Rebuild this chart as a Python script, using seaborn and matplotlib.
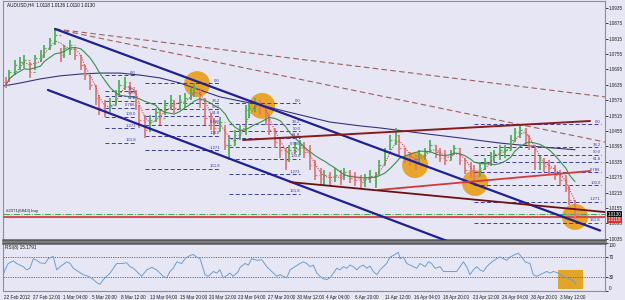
import numpy as np
import pandas as pd
import matplotlib
matplotlib.use("Agg")
import matplotlib.pyplot as plt
from matplotlib import font_manager
from matplotlib.patches import Ellipse, Rectangle
import seaborn as sns

sns.set_style("white")
_names = {f.name for f in font_manager.fontManager.ttflist}
_narrow = "Liberation Sans Narrow" in _names
plt.rcParams["font.family"] = (["Liberation Sans Narrow"] if _narrow else ["Liberation Sans"]) + ["DejaVu Sans"]

# ---------------- data ----------------
title = "AUDUSD,H4  1.0118 1.0136 1.0110 1.0130"
tick_labels = ["22 Feb 2012", "27 Feb 12:00", "1 Mar 04:00", "5 Mar 20:00", "8 Mar 12:00",
               "13 Mar 04:00", "15 Mar 20:00", "20 Mar 12:00", "23 Mar 04:00", "27 Mar 20:00",
               "30 Mar 12:00", "4 Apr 04:00", "6 Apr 20:00", "11 Apr 12:00", "16 Apr 04:00",
               "18 Apr 20:00", "23 Apr 12:00", "26 Apr 04:00", "30 Apr 20:00", "3 May 12:00"]
tick_bars = list(range(0, 320, 16))
price_ticks = [1.0035, 1.0095, 1.0155, 1.0215, 1.0275, 1.0335, 1.0395, 1.0455, 1.0515,
               1.0575, 1.0635, 1.0695, 1.0755, 1.0815, 1.0875, 1.0935]

bar_idx = [1, 3, 6, 9, 11, 14, 17, 20, 22, 25,
           28, 31, 33, 36, 39, 42, 44, 47, 50, 52,
           55, 58, 61, 63, 66, 69, 72, 74, 77, 80,
           83, 85, 88, 91, 93, 96, 99, 102, 104, 107,
           110, 113, 115, 118, 121, 123, 126, 129, 132, 134,
           137, 140, 143, 145, 148, 151, 154, 156, 159, 162,
           164, 167, 170, 173, 175, 178, 181, 184, 186, 189,
           192, 195, 197, 200, 203, 205, 208, 211, 214, 216,
           219, 222, 225, 227, 230, 233, 236, 238, 241, 244,
           246, 249, 252, 255, 257, 260, 263, 266, 268, 271,
           274, 277, 279, 282, 285, 287, 290, 293, 295, 298,
           301, 304, 307, 309, 312]
highs = [1.0666, 1.0693, 1.0732, 1.0744, 1.0752, 1.0724, 1.0752, 1.0771, 1.0791, 1.0818,
         1.0853, 1.0779, 1.0791, 1.0810, 1.0779, 1.0752, 1.0712, 1.0673, 1.0634, 1.0596,
         1.0576, 1.0584, 1.0615, 1.0654, 1.0666, 1.0646, 1.0615, 1.0557, 1.0518, 1.0518,
         1.0545, 1.0537, 1.0576, 1.0596, 1.0576, 1.0596, 1.0603, 1.0623, 1.0642, 1.0615,
         1.0584, 1.0525, 1.0506, 1.0510, 1.0479, 1.0440, 1.0459, 1.0479, 1.0557, 1.0564,
         1.0584, 1.0576, 1.0545, 1.0518, 1.0467, 1.0428, 1.0389, 1.0401, 1.0412, 1.0420,
         1.0412, 1.0401, 1.0342, 1.0311, 1.0303, 1.0295, 1.0311, 1.0303, 1.0311, 1.0303,
         1.0295, 1.0283, 1.0287, 1.0303, 1.0295, 1.0342, 1.0389, 1.0440, 1.0467, 1.0440,
         1.0389, 1.0373, 1.0362, 1.0381, 1.0389, 1.0420, 1.0401, 1.0389, 1.0381, 1.0381,
         1.0401, 1.0389, 1.0350, 1.0334, 1.0323, 1.0334, 1.0350, 1.0373, 1.0381, 1.0401,
         1.0401, 1.0440, 1.0467, 1.0479, 1.0467, 1.0440, 1.0401, 1.0358, 1.0350, 1.0342,
         1.0323, 1.0303, 1.0283, 1.0244, 1.0186]
lows = [1.0623, 1.0646, 1.0673, 1.0693, 1.0701, 1.0662, 1.0693, 1.0724, 1.0740, 1.0771,
        1.0791, 1.0724, 1.0740, 1.0752, 1.0732, 1.0693, 1.0654, 1.0615, 1.0557, 1.0518,
        1.0510, 1.0529, 1.0557, 1.0596, 1.0615, 1.0588, 1.0537, 1.0467, 1.0428, 1.0451,
        1.0490, 1.0479, 1.0518, 1.0537, 1.0525, 1.0537, 1.0545, 1.0576, 1.0588, 1.0545,
        1.0479, 1.0459, 1.0440, 1.0451, 1.0381, 1.0342, 1.0401, 1.0420, 1.0440, 1.0506,
        1.0529, 1.0518, 1.0479, 1.0440, 1.0389, 1.0350, 1.0303, 1.0334, 1.0365, 1.0362,
        1.0350, 1.0303, 1.0264, 1.0244, 1.0244, 1.0240, 1.0256, 1.0244, 1.0264, 1.0252,
        1.0240, 1.0233, 1.0237, 1.0252, 1.0233, 1.0283, 1.0323, 1.0381, 1.0401, 1.0362,
        1.0330, 1.0319, 1.0303, 1.0330, 1.0342, 1.0373, 1.0350, 1.0334, 1.0323, 1.0342,
        1.0362, 1.0323, 1.0287, 1.0272, 1.0256, 1.0280, 1.0303, 1.0319, 1.0334, 1.0342,
        1.0350, 1.0381, 1.0412, 1.0428, 1.0401, 1.0381, 1.0303, 1.0303, 1.0295, 1.0283,
        1.0264, 1.0244, 1.0217, 1.0167, 1.0110]
closes = [1.0634, 1.0685, 1.0712, 1.0724, 1.0732, 1.0685, 1.0740, 1.0752, 1.0779, 1.0810,
          1.0830, 1.0752, 1.0779, 1.0791, 1.0752, 1.0712, 1.0673, 1.0634, 1.0584, 1.0545,
          1.0537, 1.0557, 1.0596, 1.0634, 1.0646, 1.0607, 1.0568, 1.0498, 1.0459, 1.0498,
          1.0529, 1.0506, 1.0557, 1.0576, 1.0545, 1.0576, 1.0584, 1.0607, 1.0623, 1.0576,
          1.0506, 1.0490, 1.0467, 1.0490, 1.0401, 1.0401, 1.0440, 1.0459, 1.0537, 1.0545,
          1.0568, 1.0557, 1.0498, 1.0459, 1.0412, 1.0381, 1.0342, 1.0381, 1.0389, 1.0401,
          1.0373, 1.0323, 1.0283, 1.0272, 1.0283, 1.0264, 1.0283, 1.0272, 1.0295, 1.0272,
          1.0264, 1.0256, 1.0272, 1.0280, 1.0283, 1.0323, 1.0373, 1.0420, 1.0440, 1.0389,
          1.0350, 1.0342, 1.0334, 1.0362, 1.0373, 1.0401, 1.0373, 1.0350, 1.0342, 1.0365,
          1.0389, 1.0342, 1.0303, 1.0295, 1.0280, 1.0311, 1.0334, 1.0358, 1.0365, 1.0381,
          1.0381, 1.0420, 1.0451, 1.0459, 1.0440, 1.0401, 1.0334, 1.0334, 1.0319, 1.0311,
          1.0283, 1.0264, 1.0233, 1.0186, 1.0130]
first_open = 1.0645

ma_long_bar = [0, 8.7, 19.7, 30.6, 41.5, 52.5, 63.4, 74.3, 85.2, 96.2, 107.1, 118.0,
               129.0, 139.9, 150.8, 161.7, 178.1, 194.5, 205.5, 227.3, 249.2, 271.0, 292.9, 312]
ma_long = [1.0631, 1.0642, 1.0658, 1.0670, 1.0677, 1.0681, 1.0681, 1.0673, 1.0662, 1.0642,
           1.0615, 1.0588, 1.0572, 1.0557, 1.0537, 1.0518, 1.0490, 1.0475, 1.0467, 1.0447,
           1.0428, 1.0408, 1.0393, 1.0382]

# trend lines: (bar0, price0, bar1, price1)
line_blue_upper = [27.9, 1.0853, 325.7, 1.0067]
line_blue_lower = [24.0, 1.0615, 249.2, 1.0007]
line_dash_1 = [27.9, 1.0853, 328.4, 1.0588]
line_dash_2 = [27.9, 1.0853, 328.4, 1.0412]
line_darkred = [130.6, 1.0420, 320.2, 1.0494]
line_red = [204.4, 1.0225, 320.2, 1.0299]
line_maroon = [156.3, 1.0256, 328.4, 1.0139]

fib_ratios = [0, 38.2, 50, 61.8, 78.6, 100, 127.1, 161.8]
fib_labels = ["0.0", "38.2", "50.0", "61.8", "0.786", "100.0", "1.271", "161.8"]
fib_start = [55, 77, 123, 257]
fib_end = [72, 118, 162, 326]
fib_p0 = [1.0673, 1.0642, 1.0564, 1.0482]
fib_p100 = [1.0510, 1.0436, 1.0346, 1.0244]

circle_bar = [105.5, 141.0, 224.6, 257.4, 312.0]
circle_price = [1.0638, 1.0553, 1.0322, 1.0252, 1.0120]

order_price = 1.0130
red_level = 1.0118
order_label = "#2371(6843) buy"

rsi_bar = [0, 0.5, 2.3, 5.1, 6.9, 8.7, 10.5, 12.4, 14.2, 16.0,
           17.9, 19.7, 22.4, 24.2, 26.9, 28.8, 30.6, 34.3, 36.1, 37.9,
           40.6, 43.3, 46.1, 48.8, 50.7, 52.5, 54.3, 56.1, 57.9, 61.6,
           64.3, 67.0, 68.9, 70.7, 72.5, 75.2, 78.0, 80.7, 83.4, 87.0,
           88.9, 90.7, 92.5, 94.4, 97.1, 98.9, 101.6, 103.4, 105.3, 107.1,
           108.0, 109.8, 111.6, 114.4, 116.2, 118.0, 119.8, 123.5, 125.3, 128.0,
           129.0, 131.7, 133.5, 135.4, 138.1, 140.8, 143.6, 146.3, 149.0, 150.8,
           154.5, 156.3, 159.0, 161.7,
           163.6, 165.4, 167.2, 169.0, 170.9, 172.7, 174.5, 176.3, 178.1, 180.0,
           181.8, 183.6, 185.4, 187.3, 189.1, 190.9, 192.7, 194.5, 196.3, 198.2,
           200.0, 201.8, 203.7, 205.5, 207.3, 209.1, 210.9, 212.7, 214.6, 215.5,
           216.4, 218.2, 220.1, 221.9, 223.7, 225.5, 227.3, 230.1, 231.9, 233.7,
           235.5, 238.3, 240.1, 242.8, 247.4, 249.2, 251.0, 252.8, 254.6, 256.5,
           258.3, 260.1, 261.9, 263.8, 265.6, 267.4, 269.2, 271.0, 272.9, 274.7,
           276.5, 279.2, 281.0, 282.9, 284.7, 287.4, 289.2, 291.1, 292.9, 294.7,
           296.6, 298.4, 300.2, 302.9, 305.6, 307.5, 309.3, 311.1, 312.5]
rsi_val = [37.3, 44, 57.3, 62.7, 57.3, 54, 50.7, 44, 47.3, 67.3,
           64, 58.7, 57.3, 67.3, 72, 44, 50.7, 60.7, 57.3, 47.3,
           40.7, 34, 30.7, 24, 17.3, 14, 24, 30.7, 37.3, 57.3,
           57.3, 58.7, 50.7, 47.3, 40.7, 30.7, 44, 49.3, 44, 30.7,
           27.3, 40.7, 47.3, 60.7, 57.3, 67.3, 74, 76, 70.7, 67.3,
           57.3, 34, 30.7, 40.7, 37.3, 44, 27.3, 37.3, 30.7, 40.7,
           49.3, 57.3, 54, 67.3, 64, 65.3, 50.7, 40.7, 30.7, 34,
           27.3, 44, 50.7, 57.3,
           60.7, 57.3, 50.7, 54, 37.3, 30.7, 25.3, 24, 27.3, 37.3,
           47.3, 44, 50.7, 47.3, 54, 50.7, 44, 50.7, 54, 47.3,
           52, 40.7, 34, 44, 50.7, 57.3, 70.7, 74, 78.7, 80.7,
           67.3, 70.7, 57.3, 54, 50.7, 47.3, 57.3, 50.7, 60.7, 57.3,
           47.3, 50.7, 40.7, 40.7, 40.7, 50.7, 60.7, 50.7, 34, 44,
           50.7, 44, 40.7, 50.7, 57.3, 62.7, 67.3, 70.7, 67.3, 64,
           70.7, 76, 78.7, 70.7, 60.7, 57.3, 34, 30.7, 34, 37.3,
           40.7, 37.3, 40.7, 37.3, 30.7, 27.3, 25.3, 20.7, 15.2]
rsi_label = "RSI(8) 15.1791"
rsi_levels = [70, 30]
rsi_box = [302.7, 4, 316.4, 44]   # bar0, rsi0, bar1, rsi1

# ---------------- styles ----------------
BG = "#E6E6F5"
UP = "#4DB35A"
DN = "#E07A7A"
NAVY = "#1F1F96"
FIB = "#3C3CA8"
ORANGE = "#E8A52A"
FS = 3.9 if _narrow else 3.3

W, H = 625, 300
def frect(x0, y0, x1, y1):
    return [x0 / W, 1 - y1 / H, (x1 - x0) / W, (y1 - y0) / H]

fig = plt.figure(figsize=(6.25, 3.0), dpi=100)
fig.patch.set_facecolor(BG)
ax = fig.add_axes(frect(3, 1, 605, 240))
axr = fig.add_axes(frect(3, 243, 605, 291))
for a in (ax, axr):
    a.set_facecolor(BG)
    for s in a.spines.values():
        s.set_color("#8C8C9C")
        s.set_linewidth(0.8)
ax.spines["bottom"].set_color("#5A5A5A")
ax.spines["bottom"].set_linewidth(1.8)
axr.spines["top"].set_color("#5A5A5A")
axr.spines["top"].set_linewidth(1.8)

XL = (-0.55, 328.4)

# ---- price bars ----
bars = pd.DataFrame({"bar": bar_idx, "high": highs, "low": lows, "close": closes})
bars["open"] = bars["close"].shift(1).fillna(first_open)
cols = np.where(bars["close"] >= bars["open"], UP, DN)
ax.vlines(bars["bar"], bars["low"], bars["high"], colors=cols, lw=1.3, zorder=5)
ax.hlines(bars["open"], bars["bar"] - 0.9, bars["bar"], colors=cols, lw=0.9, zorder=5)
ax.hlines(bars["close"], bars["bar"], bars["bar"] + 0.9, colors=cols, lw=0.9, zorder=5)

# ---- moving averages ----
bars["ma_slow"] = bars["close"].rolling(8, min_periods=1).mean()
bars["ma_fast"] = bars["close"].rolling(3, min_periods=1).mean()
sns.lineplot(data=bars, x="bar", y="ma_slow", ax=ax, color="#3A8F4A", lw=0.8, zorder=6)
sns.lineplot(data=bars, x="bar", y="ma_fast", ax=ax, color="#D04A5A", lw=0.8,
             linestyle=(0, (1, 1.2)), zorder=6)
ma_df = pd.DataFrame({"bar": ma_long_bar, "ma": ma_long})
sns.lineplot(data=ma_df, x="bar", y="ma", ax=ax, color="#34347E", lw=0.8, zorder=4)

# ---- circles (background) ----
for b, p in zip(circle_bar, circle_price):
    ax.add_patch(Ellipse((b, p), 14.2, 0.0101, facecolor=ORANGE, edgecolor="none", zorder=1))

# ---- trend lines ----
def tline(seg, **kw):
    ax.plot([seg[0], seg[2]], [seg[1], seg[3]], **kw)

tline(line_blue_upper, color=NAVY, lw=1.6, zorder=7)
tline(line_blue_lower, color=NAVY, lw=1.6, zorder=7)
tline(line_dash_1, color="#A0605A", lw=0.8, ls=(0, (5, 3)), zorder=3)
tline(line_dash_2, color="#A0605A", lw=0.8, ls=(0, (5, 3)), zorder=3)
tline(line_darkred, color="#8B1A1A", lw=1.4, zorder=7)
tline(line_red, color="#D43A3A", lw=1.3, zorder=7)
tline(line_maroon, color="#6E1010", lw=1.3, zorder=7)

# ---- fibonacci sets ----
for b0, b1, p0, p1 in zip(fib_start, fib_end, fib_p0, fib_p100):
    for r, lab in zip(fib_ratios, fib_labels):
        lev = p0 + (p1 - p0) * r / 100.0
        ax.hlines(lev, b0, b1, colors=FIB, lw=0.7, linestyles=(0, (4, 2.5)), zorder=3)
        ax.text(b1, lev + 0.0002, lab, ha="right", va="bottom", fontsize=FS - 0.2,
                color=FIB, zorder=8)

# ---- order / level lines ----
ax.axhline(order_price, color="#3AA860", lw=0.7, ls="-.", zorder=4)
ax.axhline(red_level, color="#D45050", lw=1.5, zorder=4)
ax.text(1, order_price + 0.0004, order_label, fontsize=FS - 0.2, color="#202020",
        va="bottom", ha="left", zorder=8)

# ---- axes formatting (main) ----
ax.set_xlim(*XL)
ax.set_ylim(1.0030, 1.0962)
ax.set_xlabel("")
ax.set_ylabel("")
ax.set_xticks([])
ax.yaxis.tick_right()
ax.set_yticks(price_ticks)
ax.set_yticklabels([f"{v:.4f}" for v in price_ticks])
ax.tick_params(axis="y", labelsize=FS, length=2, width=0.6, pad=1, colors="#202020")
ax.text(0.006, 0.994, title, transform=ax.transAxes, ha="left", va="top",
        fontsize=FS, color="#101010")
yt = ax.get_yaxis_transform()
ax.text(1.004, order_price, f"{order_price:.4f}", transform=yt, ha="left", va="center",
        fontsize=FS, color="white", zorder=10,
        bbox=dict(boxstyle="square,pad=0.15", fc="#101010", ec="none"))
ax.text(1.004, red_level - 0.0010, f"{red_level:.4f}", transform=yt, ha="left", va="center",
        fontsize=FS, color="white", zorder=10,
        bbox=dict(boxstyle="square,pad=0.15", fc="#E0302A", ec="none"))

# ---- RSI pane ----
rsi_df = pd.DataFrame({"bar": rsi_bar, "rsi": rsi_val})
sns.lineplot(data=rsi_df, x="bar", y="rsi", ax=axr, color="#6C9FD2", lw=0.7, zorder=5)
for lv in rsi_levels:
    axr.axhline(lv, color="#C8404A", lw=0.7, ls=(0, (1.2, 1.2)), zorder=3)
axr.add_patch(Rectangle((rsi_box[0], rsi_box[1]), rsi_box[2] - rsi_box[0],
                        rsi_box[3] - rsi_box[1], facecolor="#E3A21C", edgecolor="none",
                        alpha=0.95, zorder=2))
axr.set_xlim(*XL)
axr.set_ylim(0, 100)
axr.set_xlabel("")
axr.set_ylabel("")
axr.yaxis.tick_right()
axr.set_yticks([100, 70, 30, 0])
axr.set_yticklabels(["100", "70", "30", "0"])
ylabs = axr.get_yticklabels()
ylabs[0].set_va("top")
ylabs[-1].set_va("bottom")
axr.tick_params(axis="y", labelsize=FS, length=2, width=0.6, pad=1, colors="#202020")
axr.set_xticks(tick_bars)
axr.set_xticklabels(tick_labels, ha="left")
axr.tick_params(axis="x", labelsize=FS, length=2, width=0.6, pad=1, colors="#202020")
axr.text(0.004, 0.96, rsi_label, transform=axr.transAxes, ha="left", va="top",
         fontsize=FS, color="#101010")

fig.savefig("out.png", dpi=100, facecolor=BG)
